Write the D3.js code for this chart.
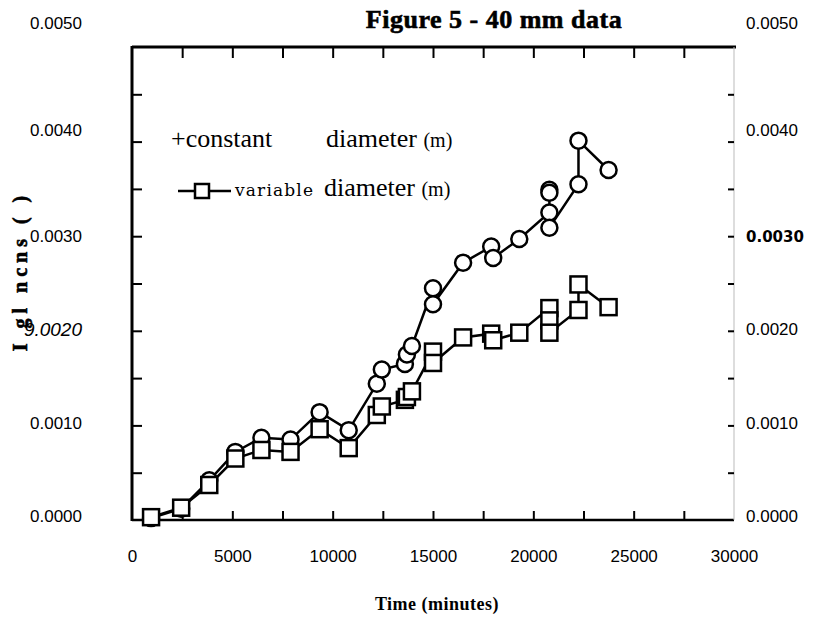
<!DOCTYPE html>
<html><head><meta charset="utf-8">
<script src="https://cdn.jsdelivr.net/npm/d3@7"></script>
<style>
body{margin:0;background:#fff;}
svg{display:block;}
</style></head>
<body>
<svg id="chart" width="814" height="619"></svg>
<script>
// ---- data ----
const constTime = [950,2450,3850,5150,6450,7900,9350,10800,12200,12450,13600,13700,13950,15000,15000,16500,17900,18000,19300,20800,20800,20800,20800,22250,22250,23750];
const constValue = [0.00002,0.00012,0.00042,0.00072,0.00087,0.00085,0.00114,0.00095,0.00144,0.00159,0.00165,0.00175,0.00184,0.00245,0.00228,0.00272,0.00289,0.00277,0.00297,0.00325,0.00349,0.00346,0.00309,0.00355,0.00401,0.00370];
const varTime = [950,2450,3850,5150,6450,7900,9350,10800,12200,12450,13600,13700,13950,15000,15000,16500,17900,18000,19300,20800,20800,20800,22250,22250,23750];
const varValue = [0.00003,0.00013,0.00037,0.00065,0.00074,0.00072,0.00096,0.00076,0.00111,0.00120,0.00127,0.00130,0.00136,0.00178,0.00166,0.00193,0.00197,0.00190,0.00198,0.00224,0.00211,0.00198,0.00222,0.00249,0.00225];
const xTickValues = [0,5000,10000,15000,20000,25000,30000];
const xTickLabels = ["0","5000","10000","15000","20000","25000","30000"];
const yTickValues = [0,0.001,0.002,0.003,0.004,0.005];
const yLabelsLeft = ["0.0000","0.0010","9.0020","0.0030","0.0040","0.0050"];
const yLabelsRight = ["0.0000","0.0010","0.0020","0.0030","0.0040","0.0050"];
const titleText = "Figure 5 - 40 mm data";
const xTitle = "Time (minutes)";
const yTitle = "I  gl ncns (  )";

// ---- layout ----
const svg = d3.select("#chart");
const L = 132, R = 734, T = 47, B = 520;
const x = d3.scaleLinear().domain([0,30000]).range([L,R]);
const y = d3.scaleLinear().domain([0,0.005]).range([B,T]);
// tick-label placement follows the (slightly distorted) printed scale of the original
const yLab = d3.scaleLinear().domain([0,0.003,0.005]).range([B-4,y(0.003),23]);

// frame
const frame = svg.append("g").attr("stroke","#000").attr("fill","none");
frame.append("line").attr("x1",L).attr("x2",L).attr("y1",T-1).attr("y2",B+1).attr("stroke-width",3);
frame.append("line").attr("x1",L).attr("x2",R+2).attr("y1",T).attr("y2",T).attr("stroke-width",3);
frame.append("line").attr("x1",L).attr("x2",R).attr("y1",B).attr("y2",B).attr("stroke-width",2.5);
frame.append("line").attr("x1",R).attr("x2",R).attr("y1",T).attr("y2",B).attr("stroke-width",1).attr("stroke","#bbb");

// minor/major tick marks (inward)
const xt = d3.range(2500,30000,2500);
svg.append("g").call(d3.axisTop(x).tickValues(xt).tickSize(-11).tickFormat(""))
  .attr("transform",`translate(0,${T})`).call(g=>{g.select(".domain").remove();g.selectAll("line").attr("stroke-width",2);});
svg.append("g").call(d3.axisBottom(x).tickValues(xt).tickSize(-9).tickFormat(""))
  .attr("transform",`translate(0,${B})`).call(g=>{g.select(".domain").remove();g.selectAll("line").attr("stroke-width",2);});
const yt = d3.range(1,10).map(i=>i*0.0005);
svg.append("g").call(d3.axisLeft(y).tickValues(yt).tickSize(-10).tickFormat(""))
  .attr("transform",`translate(${L},0)`).call(g=>{g.select(".domain").remove();g.selectAll("line").attr("stroke-width",2);});
svg.append("g").call(d3.axisRight(y).tickValues(yt).tickSize(-6).tickFormat(""))
  .attr("transform",`translate(${R},0)`).call(g=>{g.select(".domain").remove();g.selectAll("line").attr("stroke-width",2);});

// tick labels
const ax = svg.append("g").attr("transform",`translate(0,${B})`)
  .call(d3.axisBottom(x).tickValues(xTickValues).tickSize(0).tickPadding(30).tickFormat((d,i)=>xTickLabels[i]));
ax.select(".domain").remove();
ax.selectAll("text").attr("font-family","Liberation Sans, Arial, sans-serif").attr("font-size",17).attr("fill","#000");

const ayl = svg.append("g").attr("transform",`translate(${L},0)`)
  .call(d3.axisLeft(yLab).tickValues(yTickValues).tickSize(0).tickPadding(50).tickFormat((d,i)=>yLabelsLeft[i]));
ayl.select(".domain").remove();
ayl.selectAll("text").attr("font-family","Liberation Sans, Arial, sans-serif").attr("fill","#000")
  .attr("font-style",(d,i)=>yLabelsLeft[i].startsWith("9")?"italic":"normal")
  .attr("font-size",(d,i)=>yLabelsLeft[i].startsWith("9")?19:17);

const ayr = svg.append("g").attr("transform",`translate(${R},0)`)
  .call(d3.axisRight(yLab).tickValues(yTickValues).tickSize(0).tickPadding(12).tickFormat((d,i)=>yLabelsRight[i]));
ayr.select(".domain").remove();
ayr.selectAll("text").attr("fill","#000")
  .attr("font-family",(d,i)=>yLabelsRight[i]==="0.0030"?"DejaVu Sans, sans-serif":"Liberation Sans, Arial, sans-serif")
  .attr("font-weight",(d,i)=>yLabelsRight[i]==="0.0030"?"bold":"normal")
  .attr("font-size",(d,i)=>yLabelsRight[i]==="0.0030"?15:17);

// titles
svg.append("text").attr("x",494).attr("y",28).attr("text-anchor","middle")
  .attr("font-family","Liberation Serif, serif").attr("font-weight",900).attr("font-size",26)
  .attr("stroke","#000").attr("stroke-width",0.6).attr("letter-spacing",0.5).text(titleText);
svg.append("text").attr("x",437).attr("y",610).attr("text-anchor","middle")
  .attr("font-family","Liberation Serif, serif").attr("font-weight","bold").attr("font-size",18)
  .attr("letter-spacing",0.5).text(xTitle);
svg.append("text").attr("transform","translate(27,271) rotate(-90)").attr("text-anchor","middle")
  .attr("font-family","Liberation Serif, serif").attr("font-weight","bold").attr("font-size",20)
  .attr("stroke","#000").attr("stroke-width",0.6).attr("letter-spacing",5).text(yTitle);

// series
const line = d3.line().x(d=>x(d[0])).y(d=>y(d[1]));
const cData = constTime.map((t,i)=>[t,constValue[i]]);
const vData = varTime.map((t,i)=>[t,varValue[i]]);
svg.append("path").datum(vData).attr("d",line).attr("fill","none").attr("stroke","#000").attr("stroke-width",2.5);
svg.append("path").datum(cData).attr("d",line).attr("fill","none").attr("stroke","#000").attr("stroke-width",2.5);
svg.append("g").selectAll("circle").data(cData).join("circle")
  .attr("cx",d=>x(d[0])).attr("cy",d=>y(d[1])).attr("r",8)
  .attr("fill","#fff").attr("stroke","#000").attr("stroke-width",2.5);
svg.append("g").selectAll("rect").data(vData).join("rect")
  .attr("x",d=>x(d[0])-8).attr("y",d=>y(d[1])-8).attr("width",16).attr("height",16)
  .attr("fill","#fff").attr("stroke","#000").attr("stroke-width",2.5);

// legend
const lg = svg.append("g").attr("font-family","Liberation Serif, serif").attr("fill","#000");
lg.append("text").attr("x",171).attr("y",147).attr("font-size",26).text("+constant");
lg.append("text").attr("x",326).attr("y",147).attr("font-size",26).text("diameter ").append("tspan").attr("font-size",20).text("(m)");
lg.append("line").attr("x1",178).attr("x2",231).attr("y1",191).attr("y2",191).attr("stroke","#000").attr("stroke-width",2.5);
lg.append("rect").attr("x",195).attr("y",184).attr("width",14).attr("height",14).attr("fill","#fff").attr("stroke","#000").attr("stroke-width",2.5);
lg.append("text").attr("x",235).attr("y",196).attr("font-family","DejaVu Serif, serif").attr("font-size",17).attr("textLength",78).text("variable");
lg.append("text").attr("x",324).attr("y",196).attr("font-size",26).text("diameter ").append("tspan").attr("font-size",20).text("(m)");
</script>
</body></html>
